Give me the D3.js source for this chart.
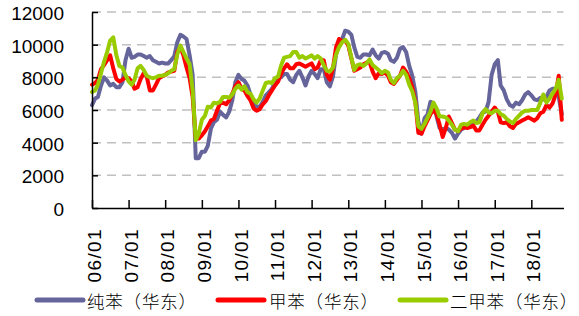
<!DOCTYPE html>
<html>
<head>
<meta charset="utf-8">
<script src="https://cdn.jsdelivr.net/npm/d3@7/dist/d3.min.js"></script>
<style>
  html, body { margin: 0; padding: 0; background: #fff; }
  svg { display: block; }
</style>
</head>
<body>
<svg id="chart" width="579" height="316"></svg>
<script>
// ---- data (monthly, 2006-01 .. 2018-11) ----
const startMonth = "2006-01";
const endMonth = "2018-11";
const yTicks = [0, 2000, 4000, 6000, 8000, 10000, 12000];
const xTickYears = [2006, 2007, 2008, 2009, 2010, 2011, 2012, 2013, 2014, 2015, 2016, 2017, 2018];
const xTickLabels = ["06/01","07/01","08/01","09/01","10/01","11/01","12/01","13/01","14/01","15/01","16/01","17/01","18/01"];
const seriesNames = ["纯苯（华东）", "甲苯（华东）", "二甲苯（华东）"];

const benzene = [
  6300,6700,6800,7500,8000,7800,7500,7600,7400,7400,7700,9050,
  9750,9200,9250,9400,9400,9300,9200,9300,9050,8950,8850,8900,
  8850,8850,9050,9300,10150,10600,10500,10350,9350,8150,3050,3050,
  3450,3450,3800,4850,5250,5400,5900,5700,5550,5900,6600,7700,
  8150,7900,7800,7500,6950,6500,6200,6200,6500,6900,7100,7300,
  7700,8050,8000,8200,8200,7850,7700,8150,8400,8000,7500,8050,
  8400,8200,7950,8500,8500,7700,7450,8050,9400,9950,10350,10850,
  10800,10600,9850,9250,9200,9400,9400,9350,9700,9350,9150,9500,
  9550,9450,9050,8950,9200,9750,9850,9550,8700,8100,7100,5300,
  4550,5500,5700,6500,6400,5600,4900,4800,4900,4800,4600,4250,
  4550,4800,4900,5000,5100,5200,5300,5550,5850,5900,6500,8150,
  8800,9050,7500,7200,6650,6300,6200,6450,6350,6600,6950,7100,
  6900,6650,6600,6750,6650,6800,7200,7300,7300,6800,5750
];
const toluene = [
  7550,7650,7850,8500,8750,9050,9350,8550,7900,7750,7850,8000,
  7950,7750,7300,7400,7900,8250,8050,7200,7200,7550,7950,8050,
  8150,8300,8350,8400,9550,9850,9350,8600,7950,6800,4250,4250,
  4450,4700,5000,5350,5450,5950,6400,6450,6350,6600,7000,7450,
  7700,7300,7200,6850,6600,6100,5950,6050,6350,6550,6900,7200,
  7500,7750,8200,8550,8800,8550,8550,8800,8850,8750,8650,8750,
  8850,8500,8600,9050,9050,8150,7850,8550,9850,10350,10200,10250,
  9950,9150,8400,8500,8600,8800,8900,8950,8350,7950,8250,8200,
  8300,8100,7700,7600,7850,8100,8600,8350,7950,7400,6500,4600,
  4550,5000,5350,5750,6000,5750,5100,4350,4900,5600,5200,4800,
  4700,4850,4950,4900,4950,5050,4750,4750,5100,5400,5650,5900,
  6150,5900,5250,5200,5250,5000,4900,5150,5250,5350,5450,5550,
  5450,5350,5500,5800,5900,6300,6150,6400,6950,8100,5400
];
const xylene = [
  7100,7200,7550,8250,8950,9550,10250,10450,9350,8700,8600,8150,
  7750,7550,7850,8550,8700,8450,8100,8000,7950,8000,8100,8100,
  8150,8250,8400,8500,9400,9950,9550,9150,8800,7200,4150,4550,
  5400,5650,6200,6150,6450,6400,6500,6800,6800,6750,6950,7300,
  7500,7250,7450,7100,7000,6650,6450,6700,7200,7650,7700,7650,
  7950,8050,8700,9200,9250,9300,9550,9550,9200,9300,9150,9250,
  9350,9150,9300,9150,8750,8400,8350,8600,9400,9850,10150,10300,
  10050,9200,8450,8750,8800,8700,8850,9100,8750,8600,8450,8250,
  8400,8300,7850,7650,7950,8100,8400,8150,7550,7150,6450,5000,
  4850,5150,5500,5900,6450,6100,5600,5600,5550,5350,5100,4800,
  4700,5100,5150,5100,5250,5350,5200,5250,5800,6050,5850,5800,
  5950,5950,5750,5650,5450,5300,5200,5450,5650,5850,5950,5950,
  6000,6000,6000,6450,6950,6450,6700,7000,7300,7850,6700
];
const seriesColors = ["#65659b", "#ff0000", "#99cc00"];

// ---- chart ----
const parseMonth = d3.timeParse("%Y-%m");
const dates = d3.timeMonth.range(parseMonth(startMonth), d3.timeMonth.offset(parseMonth(endMonth), 1));
const series = [benzene, toluene, xylene];

const svg = d3.select("#chart");
const plotLeft = 92, plotRight = 563.5, plotTop = 12, plotBottom = 208;

const x = d3.scaleTime()
  .domain([new Date(2006, 0, 1), new Date(2018, 10, 18)])
  .range([plotLeft, plotRight]);
const y = d3.scaleLinear().domain([0, 12000]).range([plotBottom, plotTop]);

svg.append("rect").attr("width", 579).attr("height", 316).attr("fill", "#fff");

// gridlines
svg.append("g").selectAll("line")
  .data(yTicks.filter(v => v > 0))
  .join("line")
  .attr("x1", plotLeft).attr("x2", plotRight)
  .attr("y1", d => y(d)).attr("y2", d => y(d))
  .attr("stroke", "#c0c0c0")
  .attr("stroke-width", 1.5)
  .attr("stroke-dasharray", "9,6");

// lines
const line = d3.line()
  .x((d, i) => x(dates[i]))
  .y(d => y(d));

svg.append("g").selectAll("path")
  .data(series)
  .join("path")
  .attr("d", d => line(d))
  .attr("fill", "none")
  .attr("stroke", (d, i) => seriesColors[i])
  .attr("stroke-width", 4)
  .attr("stroke-linejoin", "round")
  .attr("stroke-linecap", "round");

// y axis
const yAxis = svg.append("g")
  .attr("transform", `translate(${plotLeft},0)`)
  .call(d3.axisLeft(y).tickValues(yTicks).tickSize(-6).tickSizeOuter(0).tickPadding(28).tickFormat(d3.format("d")));
yAxis.selectAll("path, line").attr("stroke", "#000").attr("stroke-width", 1.5);
yAxis.selectAll("text")
  .attr("font-family", "'Liberation Sans', Arial, sans-serif")
  .attr("font-size", 19)
  .attr("fill", "#000")
  .attr("dy", "0.4em");

// x axis
const xAxis = svg.append("g")
  .attr("transform", `translate(0,${plotBottom})`)
  .call(d3.axisBottom(x)
    .tickValues(xTickYears.map(yr => new Date(yr, 0, 1)))
    .tickSize(-8).tickSizeOuter(0)
    .tickFormat((d, i) => xTickLabels[i]));
xAxis.selectAll("path, line").attr("stroke", "#000").attr("stroke-width", 1.5);
xAxis.selectAll("text")
  .attr("x", 0).attr("y", 0)
  .attr("dy", "0.35em")
  .attr("transform", "translate(2,20) rotate(-90)")
  .style("text-anchor", "end")
  .attr("font-family", "'Liberation Sans', Arial, sans-serif")
  .attr("font-size", 19)
  .attr("letter-spacing", "1.4px")
  .attr("fill", "#000");

// legend
const legendItems = [
  { x1: 37, x2: 83, tx: 87 },
  { x1: 218, x2: 264, tx: 269 },
  { x1: 400, x2: 446, tx: 450 }
];
const lg = svg.append("g");
legendItems.forEach((it, i) => {
  lg.append("line")
    .attr("x1", it.x1).attr("x2", it.x2)
    .attr("y1", 300).attr("y2", 300)
    .attr("stroke", seriesColors[i])
    .attr("stroke-width", 5)
    .attr("stroke-linecap", "round");
  lg.append("text")
    .attr("x", it.tx).attr("y", 302)
    .attr("dy", "0.35em")
    .attr("font-family", "'Noto Sans CJK SC', sans-serif")
    .attr("font-weight", 300)
    .attr("font-size", 17.5)
    .attr("letter-spacing", "0.8px")
    .attr("fill", "#000")
    .text(seriesNames[i]);
});
</script>
</body>
</html>
